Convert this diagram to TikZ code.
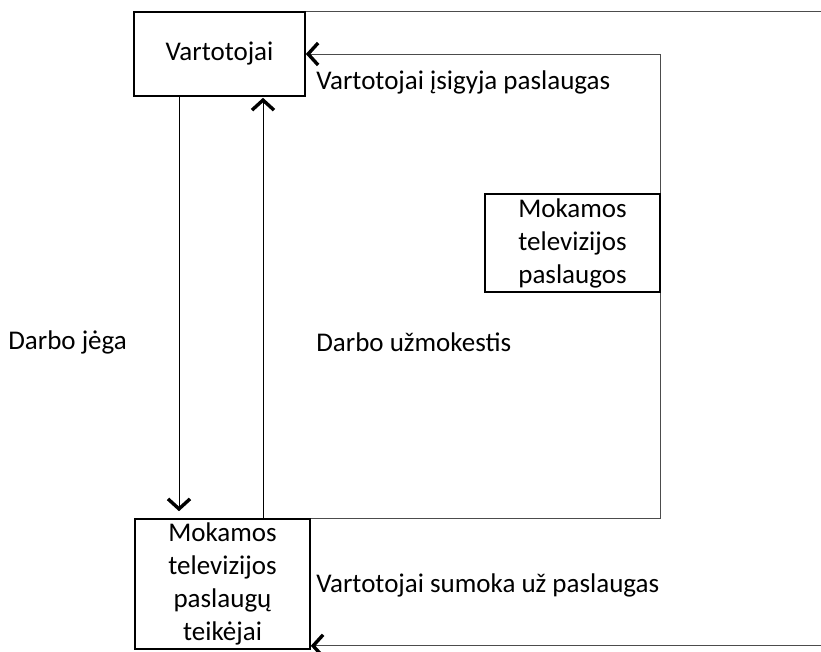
\documentclass[tikz,border=0pt]{standalone}
\usepackage{fontspec}
\setmainfont{Carlito}
\usetikzlibrary{arrows.meta}

\begin{document}
\begin{tikzpicture}[
                x = 1pt, y = -1pt, % pixel grid, y downwards
                font = \fontsize{27}{33}\selectfont,
                semithick % line style
        ]

        \tikzset{arr/.style = {-{Straight Barb[line width=3.4pt, length=10pt, width=22pt, color=black]}}}
        \tikzstyle{box}=[
            draw = black,
            line width = 1.6pt,
            align = center,
            inner sep = 0pt
        ]
        \tikzstyle{flow}=[
            draw = black!70,
            line width = 0.9pt
        ]
        \tikzstyle{label}=[
            anchor = west,
            inner sep = 0pt
        ]

        \useasboundingbox[fill = white] (0,0) rectangle (821,651);

        \node[box, minimum width = 171pt, minimum height = 84pt] (vart) at (219.5,54) {Vartotojai};
        \node[box, minimum width = 175pt, minimum height = 130pt] (teik) at (222.5,584) {Mokamos\\televizijos\\paslaugų\\teikėjai};
        \node[box, minimum width = 175pt, minimum height = 98pt] (mok) at (572.5,243) {Mokamos\\televizijos\\paslaugos};

        \coordinate (down) at (179,0);
        \coordinate (up) at (263,0);
        \coordinate (edge) at (830,0);

        \node[label] (pirk) at (316,82) {Vartotojai įsigyja paslaugas};
        \node[label] (jega) at (8,342) {Darbo jėga};
        \node[label] (alga) at (316,342) {Darbo užmokestis};
        \node[label] (moka) at (316,585) {Vartotojai sumoka už paslaugas};

        % labour and wages
        \draw[arr, line width = 0.9pt, shorten > = 7pt] (vart.south -| down) -- (teik.north -| down);
        \draw[arr, line width = 0.9pt, shorten > = 1pt] (teik.north -| up) -- (vart.south -| up);

        % services
        \draw[flow] (teik.north east) -| (mok.south east);
        \draw[flow, arr] (mok.north east) |- (vart.east);

        % payments
        \draw[flow, arr] (vart.north east) -- (vart.north east -| edge) -- ([yshift=4pt]teik.south east -| edge) -- ([yshift=4pt]teik.south east);

        \end{tikzpicture}
\end{document}
